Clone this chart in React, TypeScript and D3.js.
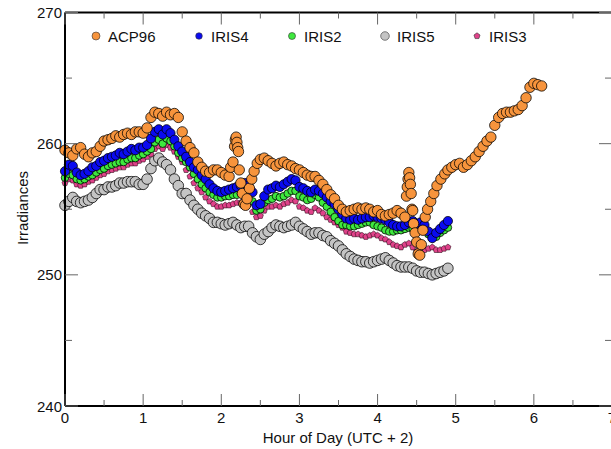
import React, { useEffect, useRef } from "react";
import * as d3 from "d3";

const W = 611;
const H = 449;

// sample times (hours) shared by the IRIS instruments, every 3 minutes
const irisHours = d3.range(99).map((i) => +(i * 0.05).toFixed(2));

const iris4 = [
  257.9, 258.4, 258.3, 257.8, 257.6, 257.7, 257.9, 258.2, 258.3, 258.6,
  258.7, 258.9, 259.0, 259.1, 259.3, 259.2, 259.4, 259.6, 259.5, 259.7,
  259.7, 259.9, 260.4, 260.9, 261.1, 260.7, 261.1, 260.8, 260.3, 259.8,
  259.4, 259.0, 258.6, 258.2, 258.0, 257.6, 257.3, 256.9, 256.6, 256.4,
  256.3, 256.4, 256.5, 256.6, 256.7, 256.8, 257.0, 256.8, 256.3, 255.3,
  255.4, 256.0, 256.5, 256.6, 256.8, 256.7, 256.9, 257.1, 257.3, 257.2,
  256.7, 256.6, 256.4, 256.3, 256.5, 256.4, 256.2, 255.9, 255.6, 255.4,
  255.0, 254.6, 254.3, 254.2, 254.3, 254.2, 254.3, 254.4, 254.4, 254.5,
  254.4, 254.3, 254.2, 254.0, 253.8, 253.7, 253.7, 253.8, 254.0, 254.1,
  253.9, 254.0, 253.8, 253.3, 252.8, 253.2, 253.5, 253.8, 254.1,
];

const iris2 = [
  257.4, 257.7, 257.6, 257.3, 257.2, 257.3, 257.5, 257.6, 257.8, 258.0,
  258.1, 258.3, 258.4, 258.5, 258.6, 258.6, 258.8, 258.9, 258.9, 259.1,
  259.2, 259.4, 259.6, 260.1, 260.3, 260.0, 260.4, 260.2, 259.8, 259.3,
  258.9, 258.6, 258.2, 257.7, 257.3, 256.9, 256.6, 256.3, 256.1, 255.9,
  255.9, 256.0, 256.0, 256.1, 256.1, 256.2, 256.3, 256.1, 255.6, 254.9,
  255.0, 255.5, 255.7, 255.8, 256.0, 255.9, 256.0, 256.2, 256.4, 256.4,
  256.0, 255.9, 255.7, 255.8, 256.1, 255.9, 255.5, 255.2, 254.8, 254.4,
  254.1, 253.8, 253.8, 253.7, 253.7, 253.8, 253.9, 254.0, 254.0, 253.8,
  253.7, 253.6, 253.4, 253.3, 253.3, 253.4, 253.4, 253.5, 253.6, 253.5,
  253.4, 253.6, 253.4, 253.1, 252.8, 252.9, 253.2, 253.4, 253.6,
];

const iris3 = [
  257.0, 257.3, 257.2, 256.9, 256.8, 256.9, 257.1, 257.2, 257.4, 257.6,
  257.7, 257.9, 258.0, 258.1, 258.2, 258.2, 258.4, 258.5, 258.5, 258.7,
  258.8, 259.0, 259.2, 259.6, 259.8, 259.6, 259.9, 259.7, 259.4, 259.0,
  258.6, 258.0, 257.5, 257.0, 256.6, 256.3, 255.9, 255.6, 255.4, 255.2,
  255.2, 255.3, 255.3, 255.4, 255.5, 255.5, 255.6, 255.4, 254.8, 254.4,
  254.5, 254.9, 255.2, 255.2, 255.3, 255.2, 255.4, 255.5, 255.7, 255.6,
  255.2, 255.1, 254.9, 254.8, 255.1, 254.9, 254.7, 254.4, 254.2, 254.0,
  253.8, 253.6, 253.3, 253.2, 253.1, 253.1, 253.0, 252.9, 253.0, 253.1,
  253.0, 252.8, 252.7, 252.5, 252.3, 252.2, 252.1, 252.3, 252.4, 252.1,
  251.8, 251.9, 251.9, 252.0, 252.1, 251.9, 251.9, 252.0, 252.1,
];

const iris5 = [
  255.3, 255.6, 255.9, 255.6, 255.5, 255.6, 255.7, 255.9, 256.2, 256.5,
  256.5, 256.7, 256.7, 256.8, 257.0, 257.0, 257.1, 257.1, 257.1, 256.9,
  256.9, 257.3, 258.1, 258.7, 258.9, 258.6, 258.4, 258.0, 257.3, 256.8,
  256.2, 256.2, 255.7, 255.3, 255.0, 254.7, 254.5, 254.3, 254.0, 254.0,
  253.9, 253.8, 253.9, 254.0, 253.8, 253.6, 253.7, 253.7, 253.2, 252.9,
  252.7, 253.1, 253.3, 253.6, 253.8, 253.7, 253.6, 253.7, 253.8, 254.0,
  253.7, 253.5, 253.3, 253.1, 253.2, 253.2, 253.0, 252.9, 252.6, 252.4,
  252.2, 251.9, 251.6, 251.4, 251.2, 251.1, 251.0, 251.0, 250.9, 251.0,
  251.1, 251.2, 251.3, 251.1, 250.9, 250.7, 250.6, 250.6, 250.6, 250.5,
  250.3, 250.2, 250.2, 250.1, 250.0, 250.1, 250.2, 250.3, 250.5,
];

// ACP96 is sampled irregularly (bursts around 2.2 h and 4.4 h)
const acp96: [number, number][] = [
  [0.0, 259.5], [0.05, 259.3], [0.1, 259.1], [0.15, 259.6], [0.2, 259.7],
  [0.25, 259.2], [0.3, 259.0], [0.35, 259.3], [0.4, 259.4], [0.45, 259.8],
  [0.5, 260.2], [0.55, 260.3], [0.6, 260.4], [0.65, 260.6], [0.7, 260.5],
  [0.75, 260.7], [0.8, 260.8], [0.85, 260.7], [0.9, 260.9], [0.95, 260.9],
  [1.0, 260.8], [1.05, 261.2], [1.1, 262.0], [1.15, 262.4], [1.2, 262.3],
  [1.25, 262.1], [1.3, 262.4], [1.35, 262.2], [1.4, 262.3], [1.45, 262.0],
  [1.5, 260.9], [1.55, 260.2], [1.6, 259.7], [1.65, 259.3], [1.7, 258.6],
  [1.75, 258.2], [1.8, 257.9], [1.85, 257.8], [1.9, 258.0], [1.95, 258.0],
  [2.0, 257.8], [2.05, 257.6], [2.1, 257.5], [2.12, 258.2], [2.15, 258.6],
  [2.17, 259.8], [2.18, 260.3], [2.19, 260.5], [2.2, 260.1], [2.21, 259.7],
  [2.22, 259.4], [2.23, 258.0], [2.25, 257.0], [2.27, 256.2], [2.29, 255.4],
  [2.31, 255.3], [2.33, 255.8], [2.36, 256.6], [2.39, 257.3], [2.42, 257.9],
  [2.46, 258.5], [2.5, 258.8], [2.55, 258.9], [2.6, 258.7], [2.65, 258.5],
  [2.7, 258.3], [2.75, 258.5], [2.8, 258.6], [2.85, 258.4], [2.9, 258.3],
  [2.95, 258.1], [3.0, 258.0], [3.05, 257.8], [3.1, 257.6], [3.15, 257.5],
  [3.2, 257.5], [3.25, 257.2], [3.3, 256.9], [3.35, 256.5], [3.4, 256.1],
  [3.45, 255.8], [3.5, 255.3], [3.55, 255.0], [3.6, 254.8], [3.65, 254.9],
  [3.7, 255.0], [3.75, 255.1], [3.8, 255.0], [3.85, 255.1], [3.9, 255.0],
  [3.95, 254.8], [4.0, 254.9], [4.05, 254.6], [4.1, 254.5], [4.15, 254.6],
  [4.2, 254.7], [4.25, 254.9], [4.3, 254.7], [4.35, 254.4], [4.37, 256.0],
  [4.38, 256.7], [4.39, 257.3], [4.4, 257.8], [4.41, 257.4], [4.42, 256.9],
  [4.43, 256.2], [4.44, 255.0], [4.45, 254.9], [4.46, 253.9], [4.48, 253.2],
  [4.5, 252.5], [4.52, 251.6], [4.54, 251.5], [4.56, 252.3], [4.58, 253.4],
  [4.61, 254.4], [4.64, 255.0], [4.68, 255.6], [4.72, 256.2], [4.76, 256.8],
  [4.81, 257.3], [4.86, 257.7], [4.9, 258.0], [4.95, 258.2], [5.0, 258.4],
  [5.05, 258.5], [5.1, 258.2], [5.15, 258.4], [5.2, 258.7], [5.25, 259.0],
  [5.3, 259.4], [5.35, 259.8], [5.4, 260.2], [5.45, 260.5], [5.5, 261.4],
  [5.55, 262.0], [5.6, 262.3], [5.65, 262.4], [5.7, 262.4], [5.75, 262.5],
  [5.8, 262.6], [5.85, 262.9], [5.9, 263.5], [5.95, 264.3], [6.0, 264.6],
  [6.05, 264.5], [6.1, 264.4],
];

const seriesNames = ["ACP96", "IRIS4", "IRIS2", "IRIS5", "IRIS3"];
const yTicks = [240, 250, 260, 270];
const xTicks = [0, 1, 2, 3, 4, 5, 6, 7];

const styles: Record<string, { fill: string; r: number; lr: number; shape: string }> = {
  ACP96: { fill: "#f7943c", r: 5.2, lr: 4, shape: "circle" },
  IRIS4: { fill: "#0a0af0", r: 4.6, lr: 3.3, shape: "circle" },
  IRIS2: { fill: "#3ee83e", r: 3.8, lr: 3.5, shape: "circle" },
  IRIS5: { fill: "#c4c4c4", r: 5.3, lr: 4.3, shape: "circle" },
  IRIS3: { fill: "#e0428a", r: 3.2, lr: 3.2, shape: "pentagon" },
};

function pentagon(r: number) {
  const pts = d3.range(5).map((i) => {
    const a = -Math.PI / 2 + (i * 2 * Math.PI) / 5;
    return [r * Math.cos(a), r * Math.sin(a)] as [number, number];
  });
  return "M" + pts.map((p) => p.join(",")).join("L") + "Z";
}

export default function App() {
  const ref = useRef<SVGSVGElement>(null);

  useEffect(() => {
    const svg = d3.select(ref.current);
    svg.selectAll("*").remove();

    const x = d3.scaleLinear().domain([0, 7]).range([65, 612]);
    const y = d3.scaleLinear().domain([240, 270]).range([406, 12.5]);
    const font = "'Liberation Sans', Arial, sans-serif";

    const plot = svg.append("g");

    const data: Record<string, [number, number][]> = {
      IRIS4: irisHours.map((h, i) => [h, iris4[i]]),
      IRIS2: irisHours.map((h, i) => [h, iris2[i]]),
      IRIS3: irisHours.map((h, i) => [h, iris3[i]]),
      IRIS5: irisHours.map((h, i) => [h, iris5[i]]),
      ACP96: acp96,
    };

    const drawOrder = ["IRIS5", "IRIS3", "IRIS2", "IRIS4", "ACP96"];
    drawOrder.forEach((name) => {
      const s = styles[name];
      const g = plot.append("g");
      if (s.shape === "circle") {
        g.selectAll("circle")
          .data(data[name])
          .enter()
          .append("circle")
          .attr("cx", (d) => x(d[0]))
          .attr("cy", (d) => y(d[1]))
          .attr("r", s.r)
          .attr("fill", s.fill)
          .attr("stroke", "#000")
          .attr("stroke-opacity", 0.85)
          .attr("stroke-width", 0.9);
      } else {
        g.selectAll("path")
          .data(data[name])
          .enter()
          .append("path")
          .attr("d", pentagon(s.r))
          .attr("transform", (d) => `translate(${x(d[0])},${y(d[1])})`)
          .attr("fill", s.fill)
          .attr("stroke", "#2a0a18")
          .attr("stroke-opacity", 0.8)
          .attr("stroke-width", 0.7);
      }
    });

    // frame
    const axes = svg.append("g").attr("fill", "none");
    axes.append("line").attr("x1", 65).attr("x2", 612).attr("y1", 406).attr("y2", 406)
      .attr("stroke", "#000").attr("stroke-width", 2);
    axes.append("line").attr("x1", 65).attr("x2", 612).attr("y1", 12.5).attr("y2", 12.5)
      .attr("stroke", "#000").attr("stroke-width", 2);
    axes.append("line").attr("x1", 65).attr("x2", 65).attr("y1", 12.5).attr("y2", 406)
      .attr("stroke", "#000").attr("stroke-width", 2);
    axes.append("line").attr("x1", 612).attr("x2", 612).attr("y1", 12.5).attr("y2", 406)
      .attr("stroke", "#000").attr("stroke-width", 2);

    // ticks
    const xMinor = d3.range(0.5, 7, 1);
    const yMinor = [245, 255, 265];
    const tickColor = "#666";
    xTicks.forEach((t) => {
      axes.append("line").attr("x1", x(t)).attr("x2", x(t)).attr("y1", 406).attr("y2", 394).attr("stroke", tickColor);
      axes.append("line").attr("x1", x(t)).attr("x2", x(t)).attr("y1", 12.5).attr("y2", 24.5).attr("stroke", tickColor);
    });
    xMinor.forEach((t) => {
      axes.append("line").attr("x1", x(t)).attr("x2", x(t)).attr("y1", 406).attr("y2", 400).attr("stroke", tickColor);
      axes.append("line").attr("x1", x(t)).attr("x2", x(t)).attr("y1", 12.5).attr("y2", 18.5).attr("stroke", tickColor);
    });
    yTicks.forEach((t) => {
      axes.append("line").attr("x1", 65).attr("x2", 78).attr("y1", y(t)).attr("y2", y(t)).attr("stroke", tickColor);
      axes.append("line").attr("x1", 612).attr("x2", 599).attr("y1", y(t)).attr("y2", y(t)).attr("stroke", tickColor);
    });
    yMinor.forEach((t) => {
      axes.append("line").attr("x1", 65).attr("x2", 72).attr("y1", y(t)).attr("y2", y(t)).attr("stroke", tickColor);
      axes.append("line").attr("x1", 612).attr("x2", 605).attr("y1", y(t)).attr("y2", y(t)).attr("stroke", tickColor);
    });

    // tick labels
    const labels = svg.append("g").attr("font-family", font).attr("font-size", 15).attr("fill", "#111");
    yTicks.forEach((t) => {
      labels.append("text").attr("x", 62).attr("y", y(t) + 5.5).attr("text-anchor", "end").text(t);
    });
    xTicks.forEach((t) => {
      labels.append("text").attr("x", x(t)).attr("y", 423).attr("text-anchor", "middle").text(t);
    });

    labels.append("text")
      .attr("x", 338)
      .attr("y", 443)
      .attr("text-anchor", "middle")
      .text("Hour of Day (UTC + 2)");
    labels.append("text")
      .attr("transform", "translate(28,208) rotate(-90)")
      .attr("text-anchor", "middle")
      .text("Irradiances");

    // legend
    const legendX = [96, 199, 292, 385, 477];
    const legend = svg.append("g").attr("font-family", font).attr("font-size", 15).attr("fill", "#111");
    seriesNames.forEach((name, i) => {
      const s = styles[name];
      if (s.shape === "circle") {
        legend.append("circle").attr("cx", legendX[i]).attr("cy", 36).attr("r", s.lr)
          .attr("fill", s.fill).attr("stroke", "#333").attr("stroke-width", 0.6);
      } else {
        legend.append("path").attr("d", pentagon(s.lr)).attr("transform", `translate(${legendX[i]},36)`)
          .attr("fill", s.fill).attr("stroke", "#333").attr("stroke-width", 0.6);
      }
      legend.append("text").attr("x", legendX[i] + 12).attr("y", 41.5).text(name);
    });
  }, []);

  return (
    <svg
      ref={ref}
      width={W}
      height={H}
      style={{ position: "absolute", left: 0, top: 0, background: "#fff" }}
    />
  );
}
